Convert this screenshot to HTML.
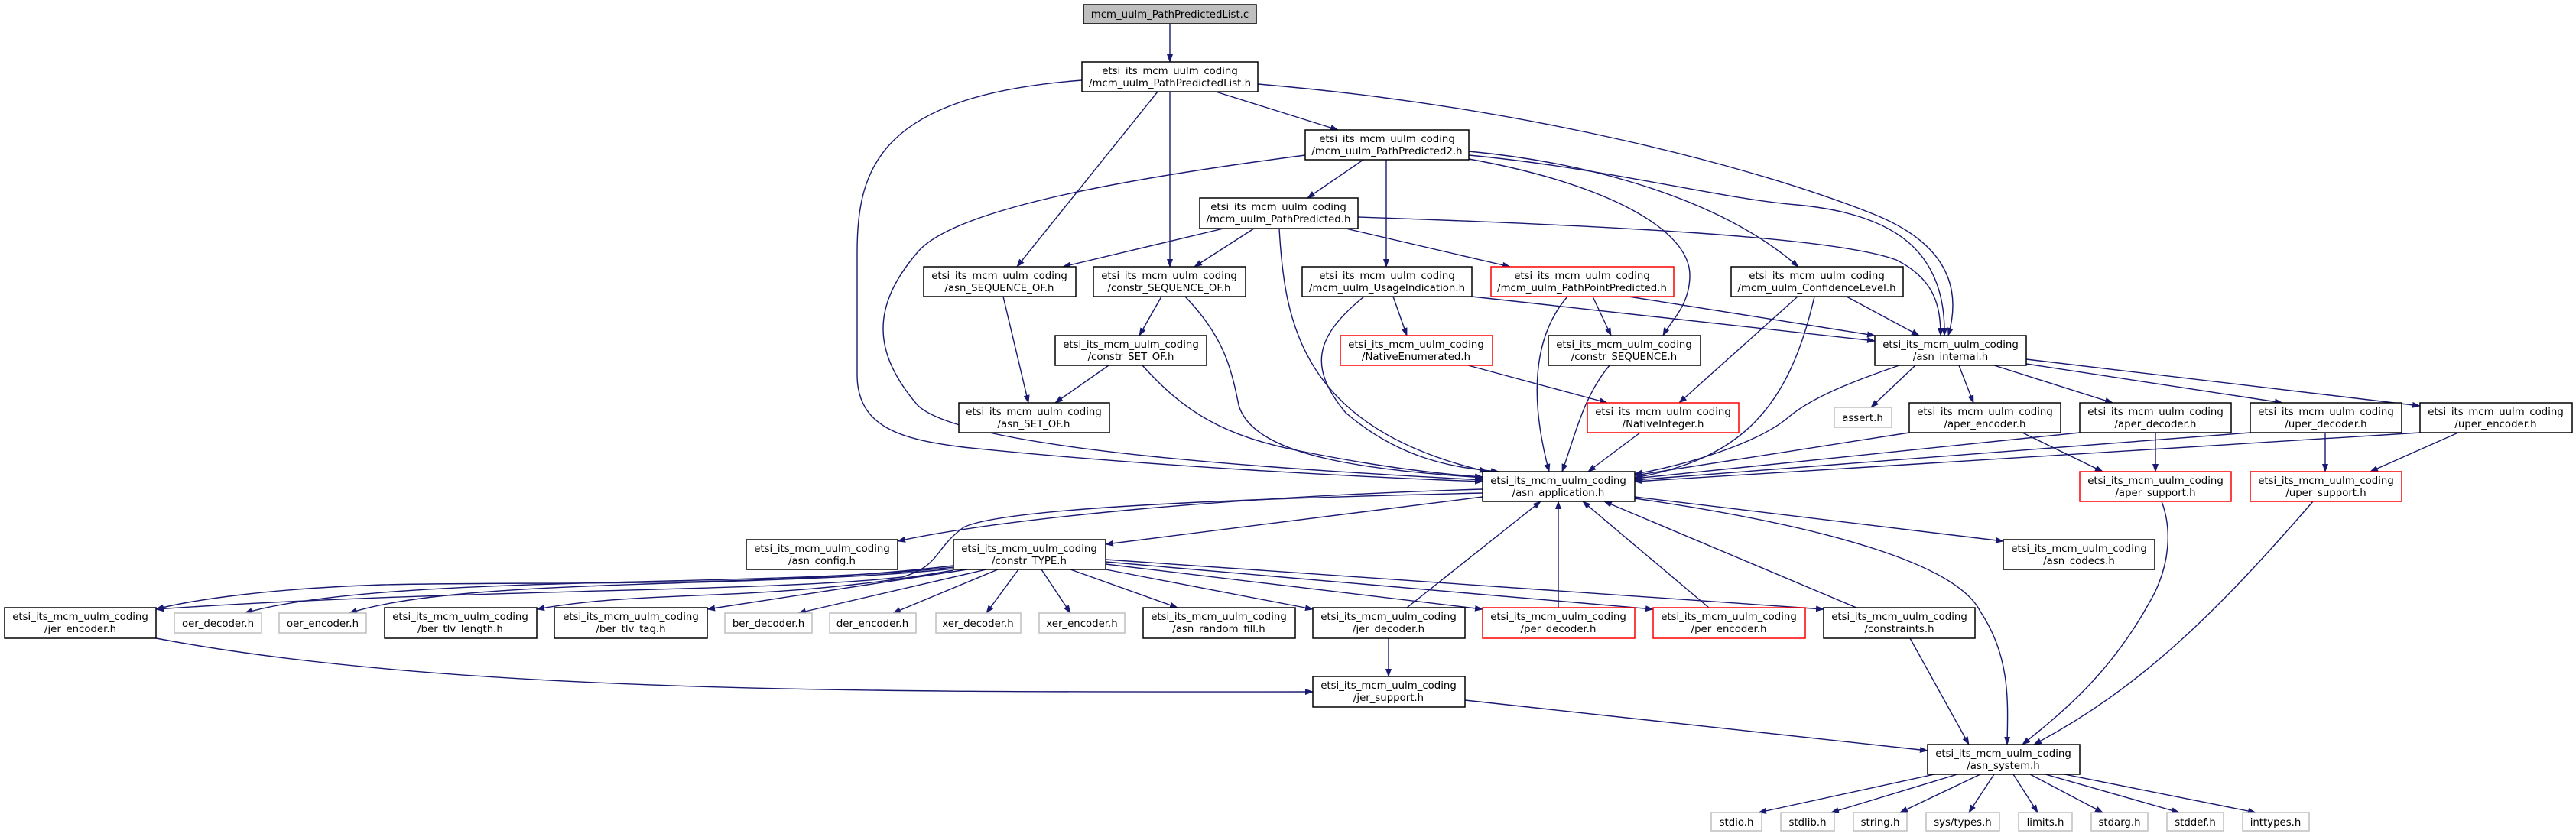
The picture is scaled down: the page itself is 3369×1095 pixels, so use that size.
<!DOCTYPE html>
<html><head><meta charset="utf-8"><style>
html,body{margin:0;padding:0;background:#fff;width:3369px;height:1095px;overflow:hidden}
svg text{font-family:"DejaVu Sans","Liberation Sans",sans-serif;font-size:13.3px;fill:#000;text-anchor:middle}
.n{fill:#fff;stroke:#000;stroke-width:1.5}
.r{fill:#fff;stroke:#ff0000;stroke-width:1.5}
.g{fill:#fff;stroke:#bfbfbf;stroke-width:1.5}
.e{fill:none;stroke:#191970;stroke-width:1.4}
</style></head><body>
<svg width="3369" height="1095" viewBox="0 0 3369 1095" xmlns="http://www.w3.org/2000/svg">
<defs><marker id="a" markerWidth="11" markerHeight="8" refX="10" refY="4" orient="auto" markerUnits="userSpaceOnUse"><polygon points="0,0 11,4 0,8" fill="#191970"/></marker></defs>
<g marker-end="url(#a)" class="e">
<path class="e" d="M1530,31 L1530,81"/>
<path class="e" d="M1415,105 C1150,125 1121,220 1121,330 L1121,490 C1121,560 1180,575 1260,585 C1500,610 1800,625 1939,630"/>
<path class="e" d="M1514,120 L1330,349"/>
<path class="e" d="M1530,120 L1530,349"/>
<path class="e" d="M1590,120 L1750,170"/>
<path class="e" d="M1645,110 C2000,140 2300,220 2450,280 C2550,320 2565,380 2548,439"/>
<path class="e" d="M1783,209 L1710,259"/>
<path class="e" d="M1813,209 L1813,349"/>
<path class="e" d="M1707,203 C1500,230 1250,270 1200,330 C1140,400 1140,460 1200,530 C1260,590 1700,615 1939,628"/>
<path class="e" d="M1921,208 C2100,240 2210,300 2210,360 C2210,400 2185,420 2175,439"/>
<path class="e" d="M1921,198 C2080,213 2250,260 2352,349"/>
<path class="e" d="M1921,203 C2100,220 2250,260 2350,268 C2480,280 2545,330 2543,439"/>
<path class="e" d="M1600,299 L1390,349"/>
<path class="e" d="M1640,299 L1562,349"/>
<path class="e" d="M1673,299 C1680,420 1700,560 1945,617"/>
<path class="e" d="M1760,299 L1975,349"/>
<path class="e" d="M1776,284 C2100,295 2400,310 2480,340 C2530,365 2538,400 2538,439"/>
<path class="e" d="M1312,388 L1345,527"/>
<path class="e" d="M1519,388 L1490,439"/>
<path class="e" d="M1550,388 C1600,440 1610,480 1620,530 C1640,600 1800,615 1939,625"/>
<path class="e" d="M1450,478 L1380,527"/>
<path class="e" d="M1494,478 C1550,540 1600,570 1700,590 C1800,610 1880,620 1939,624"/>
<path class="e" d="M1822,388 L1840,439"/>
<path class="e" d="M1784,388 C1720,440 1710,480 1760,540 C1830,600 1900,612 1960,617"/>
<path class="e" d="M1925,388 L2452,446"/>
<path class="e" d="M2050,388 C2005,440 2000,520 2026,617"/>
<path class="e" d="M2083,388 L2107,439"/>
<path class="e" d="M2130,388 L2452,439"/>
<path class="e" d="M2351,388 L2196,527"/>
<path class="e" d="M2373,388 C2340,531 2280,600 2138,625"/>
<path class="e" d="M2415,388 L2510,439"/>
<path class="e" d="M1920,478 L2102,527"/>
<path class="e" d="M2105,478 C2070,520 2060,570 2043,617"/>
<path class="e" d="M2145,566 L2077,617"/>
<path class="e" d="M2484,478 C2420,500 2370,520 2340,545 C2300,580 2200,610 2138,620"/>
<path class="e" d="M2505,478 L2447,533"/>
<path class="e" d="M2562,478 L2581,527"/>
<path class="e" d="M2608,478 L2763,527"/>
<path class="e" d="M2650,476 L2985,527"/>
<path class="e" d="M2650,470 L3165,531"/>
<path class="e" d="M2497,566 L2138,622"/>
<path class="e" d="M2645,566 L2750,617"/>
<path class="e" d="M2720,566 L2138,626"/>
<path class="e" d="M2819,566 L2819,617"/>
<path class="e" d="M2943,566 L2138,628"/>
<path class="e" d="M3041,566 L3041,617"/>
<path class="e" d="M3165,566 L2138,630"/>
<path class="e" d="M3215,566 L3100,617"/>
<path class="e" d="M2827,656 C2840,690 2840,740 2810,790 C2760,880 2700,930 2645,974"/>
<path class="e" d="M3025,656 C2900,800 2800,900 2660,974"/>
<path class="e" d="M1939,640 C1600,650 1300,680 1174,708"/>
<path class="e" d="M1939,650 L1446,712"/>
<path class="e" d="M2138,650 L2620,708"/>
<path class="e" d="M2138,652 C2400,690 2560,740 2590,800 C2630,860 2626,920 2625,974"/>
<path class="e" d="M1939,645 C1500,655 1300,670 1260,690 C1220,720 1230,740 1180,755 C1000,775 600,770 204,797"/>
<path class="e" d="M1247,740 C1000,770 700,760 500,765 C350,770 250,785 204,797"/>
<path class="e" d="M1247,742 C1000,770 500,750 320,802"/>
<path class="e" d="M1247,744 C1000,770 600,755 457,802"/>
<path class="e" d="M1247,746 C1000,790 850,770 702,797"/>
<path class="e" d="M1265,745 L925,797"/>
<path class="e" d="M1290,745 L1044,802"/>
<path class="e" d="M1305,745 L1168,802"/>
<path class="e" d="M1332,745 L1290,802"/>
<path class="e" d="M1362,745 L1400,802"/>
<path class="e" d="M1400,745 L1540,795"/>
<path class="e" d="M1446,745 L1717,797"/>
<path class="e" d="M1446,738 L1939,797"/>
<path class="e" d="M1446,735 L2162,797"/>
<path class="e" d="M1446,732 L2385,797"/>
<path class="e" d="M1840,795 L2015,656"/>
<path class="e" d="M2038,795 L2038,656"/>
<path class="e" d="M2235,795 L2070,656"/>
<path class="e" d="M2428,795 L2098,656"/>
<path class="e" d="M2498,835 L2575,974"/>
<path class="e" d="M1816,835 L1816,885"/>
<path class="e" d="M204,835 C600,910 1200,905 1717,905"/>
<path class="e" d="M1916,916 L2521,982"/>
<path class="e" d="M2530,1013 L2300,1063"/>
<path class="e" d="M2560,1013 L2395,1063"/>
<path class="e" d="M2590,1013 L2485,1063"/>
<path class="e" d="M2608,1013 L2575,1063"/>
<path class="e" d="M2633,1013 L2665,1063"/>
<path class="e" d="M2655,1013 L2750,1063"/>
<path class="e" d="M2675,1013 L2850,1063"/>
<path class="e" d="M2700,1013 L2950,1063"/>
</g>
<g>
<rect x="1417" y="6" width="226" height="25" fill="#bfbfbf" stroke="#000" stroke-width="1.5"/><text x="1530" y="23">mcm_uulm_PathPredictedList.c</text>
<rect class="n" x="1415" y="81" width="230" height="39"/><text x="1530" y="97">etsi_its_mcm_uulm_coding</text><text x="1530" y="113">/mcm_uulm_PathPredictedList.h</text>
<rect class="n" x="1707" y="170" width="214" height="39"/><text x="1814" y="186">etsi_its_mcm_uulm_coding</text><text x="1814" y="202">/mcm_uulm_PathPredicted2.h</text>
<rect class="n" x="1569" y="259" width="207" height="40"/><text x="1672" y="275">etsi_its_mcm_uulm_coding</text><text x="1672" y="291">/mcm_uulm_PathPredicted.h</text>
<rect class="n" x="1208" y="349" width="199" height="39"/><text x="1307" y="365">etsi_its_mcm_uulm_coding</text><text x="1307" y="381">/asn_SEQUENCE_OF.h</text>
<rect class="n" x="1430" y="349" width="199" height="39"/><text x="1529" y="365">etsi_its_mcm_uulm_coding</text><text x="1529" y="381">/constr_SEQUENCE_OF.h</text>
<rect class="n" x="1703" y="349" width="222" height="39"/><text x="1814" y="365">etsi_its_mcm_uulm_coding</text><text x="1814" y="381">/mcm_uulm_UsageIndication.h</text>
<rect class="r" x="1950" y="349" width="239" height="39"/><text x="2069" y="365">etsi_its_mcm_uulm_coding</text><text x="2069" y="381">/mcm_uulm_PathPointPredicted.h</text>
<rect class="n" x="2264" y="349" width="225" height="39"/><text x="2376" y="365">etsi_its_mcm_uulm_coding</text><text x="2376" y="381">/mcm_uulm_ConfidenceLevel.h</text>
<rect class="n" x="1380" y="439" width="198" height="39"/><text x="1479" y="455">etsi_its_mcm_uulm_coding</text><text x="1479" y="471">/constr_SET_OF.h</text>
<rect class="r" x="1753" y="439" width="199" height="39"/><text x="1852" y="455">etsi_its_mcm_uulm_coding</text><text x="1852" y="471">/NativeEnumerated.h</text>
<rect class="n" x="2025" y="439" width="199" height="39"/><text x="2124" y="455">etsi_its_mcm_uulm_coding</text><text x="2124" y="471">/constr_SEQUENCE.h</text>
<rect class="n" x="2452" y="439" width="198" height="39"/><text x="2551" y="455">etsi_its_mcm_uulm_coding</text><text x="2551" y="471">/asn_internal.h</text>
<rect class="n" x="1254" y="527" width="197" height="39"/><text x="1352" y="543">etsi_its_mcm_uulm_coding</text><text x="1352" y="559">/asn_SET_OF.h</text>
<rect class="r" x="2076" y="527" width="198" height="39"/><text x="2175" y="543">etsi_its_mcm_uulm_coding</text><text x="2175" y="559">/NativeInteger.h</text>
<rect class="g" x="2399" y="533" width="75" height="26"/><text x="2436" y="551">assert.h</text>
<rect class="n" x="2497" y="527" width="198" height="39"/><text x="2596" y="543">etsi_its_mcm_uulm_coding</text><text x="2596" y="559">/aper_encoder.h</text>
<rect class="n" x="2720" y="527" width="198" height="39"/><text x="2819" y="543">etsi_its_mcm_uulm_coding</text><text x="2819" y="559">/aper_decoder.h</text>
<rect class="n" x="2943" y="527" width="198" height="39"/><text x="3042" y="543">etsi_its_mcm_uulm_coding</text><text x="3042" y="559">/uper_decoder.h</text>
<rect class="n" x="3165" y="527" width="199" height="39"/><text x="3264" y="543">etsi_its_mcm_uulm_coding</text><text x="3264" y="559">/uper_encoder.h</text>
<rect class="n" x="1939" y="617" width="199" height="39"/><text x="2038" y="633">etsi_its_mcm_uulm_coding</text><text x="2038" y="649">/asn_application.h</text>
<rect class="r" x="2720" y="617" width="198" height="39"/><text x="2819" y="633">etsi_its_mcm_uulm_coding</text><text x="2819" y="649">/aper_support.h</text>
<rect class="r" x="2943" y="617" width="198" height="39"/><text x="3042" y="633">etsi_its_mcm_uulm_coding</text><text x="3042" y="649">/uper_support.h</text>
<rect class="n" x="976" y="706" width="198" height="39"/><text x="1075" y="722">etsi_its_mcm_uulm_coding</text><text x="1075" y="738">/asn_config.h</text>
<rect class="n" x="1247" y="706" width="199" height="39"/><text x="1346" y="722">etsi_its_mcm_uulm_coding</text><text x="1346" y="738">/constr_TYPE.h</text>
<rect class="n" x="2620" y="706" width="198" height="39"/><text x="2719" y="722">etsi_its_mcm_uulm_coding</text><text x="2719" y="738">/asn_codecs.h</text>
<rect class="n" x="6" y="795" width="198" height="40"/><text x="105" y="811">etsi_its_mcm_uulm_coding</text><text x="105" y="827">/jer_encoder.h</text>
<rect class="g" x="228" y="802" width="114" height="26"/><text x="285" y="820">oer_decoder.h</text>
<rect class="g" x="365" y="802" width="114" height="26"/><text x="422" y="820">oer_encoder.h</text>
<rect class="n" x="503" y="795" width="199" height="40"/><text x="602" y="811">etsi_its_mcm_uulm_coding</text><text x="602" y="827">/ber_tlv_length.h</text>
<rect class="n" x="725" y="795" width="200" height="40"/><text x="825" y="811">etsi_its_mcm_uulm_coding</text><text x="825" y="827">/ber_tlv_tag.h</text>
<rect class="g" x="948" y="802" width="114" height="26"/><text x="1005" y="820">ber_decoder.h</text>
<rect class="g" x="1085" y="802" width="113" height="26"/><text x="1141" y="820">der_encoder.h</text>
<rect class="g" x="1224" y="802" width="111" height="26"/><text x="1279" y="820">xer_decoder.h</text>
<rect class="g" x="1359" y="802" width="112" height="26"/><text x="1415" y="820">xer_encoder.h</text>
<rect class="n" x="1495" y="795" width="199" height="40"/><text x="1594" y="811">etsi_its_mcm_uulm_coding</text><text x="1594" y="827">/asn_random_fill.h</text>
<rect class="n" x="1717" y="795" width="199" height="40"/><text x="1816" y="811">etsi_its_mcm_uulm_coding</text><text x="1816" y="827">/jer_decoder.h</text>
<rect class="r" x="1939" y="795" width="199" height="40"/><text x="2038" y="811">etsi_its_mcm_uulm_coding</text><text x="2038" y="827">/per_decoder.h</text>
<rect class="r" x="2162" y="795" width="199" height="40"/><text x="2261" y="811">etsi_its_mcm_uulm_coding</text><text x="2261" y="827">/per_encoder.h</text>
<rect class="n" x="2385" y="795" width="198" height="40"/><text x="2484" y="811">etsi_its_mcm_uulm_coding</text><text x="2484" y="827">/constraints.h</text>
<rect class="n" x="1717" y="885" width="199" height="40"/><text x="1816" y="901">etsi_its_mcm_uulm_coding</text><text x="1816" y="917">/jer_support.h</text>
<rect class="n" x="2521" y="974" width="199" height="39"/><text x="2620" y="990">etsi_its_mcm_uulm_coding</text><text x="2620" y="1006">/asn_system.h</text>
<rect class="g" x="2238" y="1063" width="66" height="24"/><text x="2271" y="1080">stdio.h</text>
<rect class="g" x="2329" y="1063" width="70" height="24"/><text x="2364" y="1080">stdlib.h</text>
<rect class="g" x="2424" y="1063" width="70" height="24"/><text x="2459" y="1080">string.h</text>
<rect class="g" x="2519" y="1063" width="96" height="24"/><text x="2567" y="1080">sys/types.h</text>
<rect class="g" x="2640" y="1063" width="70" height="24"/><text x="2675" y="1080">limits.h</text>
<rect class="g" x="2735" y="1063" width="74" height="24"/><text x="2772" y="1080">stdarg.h</text>
<rect class="g" x="2834" y="1063" width="74" height="24"/><text x="2871" y="1080">stddef.h</text>
<rect class="g" x="2933" y="1063" width="87" height="24"/><text x="2976" y="1080">inttypes.h</text>
</g>
</svg>
</body></html>
